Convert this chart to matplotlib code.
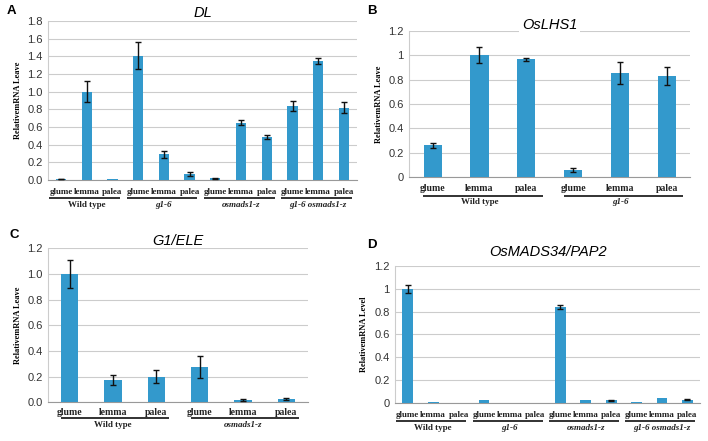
import matplotlib.pyplot as plt
import numpy as np
from matplotlib.ticker import FormatStrFormatter

parts = ['glume', 'lemma', 'palea']

# panel A - DL
a_groups = ['Wild type', 'g1-6', 'osmads1-z', 'g1-6 osmads1-z']
a_vals = [0.01, 1.00, 0.015, 1.41, 0.29, 0.07, 0.02, 0.65, 0.49, 0.84, 1.35, 0.82]
a_err = [0.005, 0.12, 0.0, 0.15, 0.04, 0.025, 0.006, 0.03, 0.025, 0.06, 0.035, 0.06]

# panel B - OsLHS1
b_groups = ['Wild type', 'g1-6']
b_vals = [0.26, 1.00, 0.965, 0.055, 0.85, 0.83]
b_err = [0.02, 0.065, 0.015, 0.015, 0.09, 0.075]

# panel C - G1/ELE
c_groups = ['Wild type', 'osmads1-z']
c_vals = [1.00, 0.175, 0.20, 0.275, 0.015, 0.025]
c_err = [0.11, 0.04, 0.05, 0.085, 0.006, 0.01]

# panel D - OsMADS34/PAP2
d_groups = ['Wild type', 'g1-6', 'osmads1-z', 'g1-6 osmads1-z']
d_vals = [1.00, 0.012, 0.0, 0.028, 0.0, 0.0, 0.84, 0.025, 0.025, 0.012, 0.045, 0.03]
d_err = [0.035, 0.0, 0.0, 0.0, 0.0, 0.0, 0.02, 0.0, 0.004, 0.0, 0.0, 0.004]

BAR = '#3399cc'
SERIF = 'Liberation Serif'
SANS = 'Liberation Sans'

fig = plt.figure(figsize=(7.08, 4.41), dpi=100)


def panel(rect, letter, title, groups, vals, err, ymax, step, fmt, ylabel,
          width, cat_y, line_y, grp_y, letter_xy, title_y, line_ext,
          title_box=False, cat_fs=6.5):
    ax = fig.add_axes(rect)
    x = np.arange(len(vals))
    errs = [e if e > 0 else np.nan for e in err]
    ax.bar(x, vals, width, color=BAR, zorder=3)
    ax.errorbar(x, vals, yerr=errs, fmt='none', ecolor='#111111', elinewidth=1,
                capsize=2.2, capthick=1, zorder=4)
    ax.set_xlim(-0.5, len(vals) - 0.5)
    ax.set_ylim(0, ymax)
    ticks = np.arange(0, ymax + step / 2, step)
    ax.set_yticks(ticks)
    if fmt:
        ax.yaxis.set_major_formatter(FormatStrFormatter(fmt))
    else:
        ax.set_yticklabels(['%g' % round(v, 1) for v in ticks])
    ax.grid(axis='y', color='#cccccc', lw=0.8, zorder=0)
    for s in ['top', 'right']:
        ax.spines[s].set_visible(False)
    ax.spines['left'].set_color('#cccccc')
    ax.spines['bottom'].set_color('#999999')
    ax.tick_params(length=0, labelsize=8, labelcolor='#333333', pad=4)
    for t in ax.get_yticklabels():
        t.set_fontfamily(SANS)
    ax.set_xticks([])
    ax.set_ylabel(ylabel, fontfamily=SERIF, fontweight='bold', fontsize=6,
                  labelpad=4)
    tr = ax.get_xaxis_transform()
    for i, v in enumerate(x):
        ax.text(v, cat_y, parts[i % 3], transform=tr, ha='center', va='center',
                fontfamily=SERIF, fontweight='bold', fontsize=cat_fs,
                color='#222222')
    for g, name in enumerate(groups):
        x0, x1 = 3 * g - line_ext[0], 3 * g + 2 + line_ext[1]
        ax.plot([x0, x1], [line_y, line_y], transform=tr, color='#222222',
                lw=1.3, clip_on=False, solid_capstyle='butt')
        style = 'normal' if name == 'Wild type' else 'italic'
        ax.text(3 * g + 1, grp_y, name, transform=tr, ha='center', va='center',
                fontfamily=SERIF, fontweight='bold', fontstyle=style,
                fontsize=6.5, color='#222222')
    kw = {}
    if title_box:
        kw['bbox'] = dict(facecolor='white', edgecolor='none', pad=2)
    ax.text(0.5, title_y, title, transform=ax.transAxes, ha='center',
            va='center', fontfamily=SANS, fontstyle='italic', fontsize=10.5,
            zorder=5, **kw)
    fig.text(letter_xy[0], letter_xy[1], letter, fontfamily=SANS,
             fontweight='bold', fontsize=9.5, ha='left', va='center')
    return ax


panel([0.068, 0.592, 0.436, 0.360], 'A', 'DL', a_groups, a_vals, a_err,
      1.8, 0.2, '%.1f', 'RelativemRNA Leave', 0.4,
      -0.075, -0.115, -0.16, (0.010, 0.975), 1.05, (0.45, 0.3))
panel([0.578, 0.599, 0.397, 0.331], 'B', 'OsLHS1', b_groups, b_vals, b_err,
      1.2, 0.2, None, 'RelativemRNA Leave', 0.39,
      -0.08, -0.13, -0.17, (0.518, 0.975), 1.04, (0.2, 0.35), title_box=True,
      cat_fs=7)
panel([0.068, 0.088, 0.367, 0.349], 'C', 'G1/ELE', c_groups, c_vals, c_err,
      1.2, 0.2, '%.1f', 'RelativemRNA Leave', 0.4,
      -0.07, -0.1, -0.145, (0.014, 0.468), 1.05, (0.2, 0.3), cat_fs=7)
panel([0.558, 0.086, 0.431, 0.311], 'D', 'OsMADS34/PAP2', d_groups, d_vals, d_err,
      1.2, 0.2, None, 'RelativemRNA Level', 0.42,
      -0.085, -0.13, -0.185, (0.518, 0.445), 1.1, (0.45, 0.3))

fig.savefig('out.png', dpi=100)
